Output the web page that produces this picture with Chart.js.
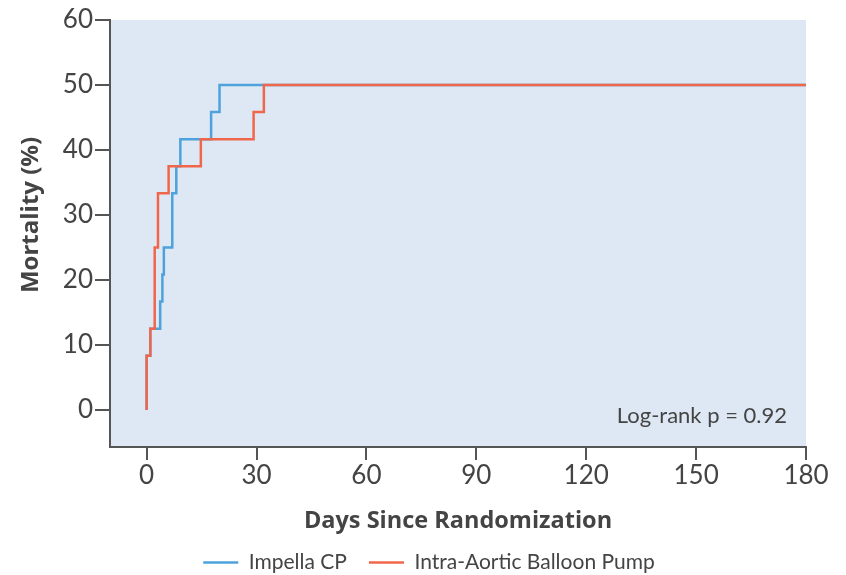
<!DOCTYPE html>
<html>
<head>
<meta charset="utf-8">
<script src="https://cdn.jsdelivr.net/npm/chart.js@4/dist/chart.umd.min.js"></script>
<style>
  html, body { margin: 0; padding: 0; background: #fff; }
  #wrap { width: 846px; height: 575px; }
</style>
</head>
<body>
<div id="wrap"><canvas id="myChart" width="846" height="575"></canvas></div>
<script>
// Kaplan-Meier steps (day, cumulative mortality %)
var impellaDays = [0, 0, 1, 3.7, 4.3, 4.7, 7, 8.1, 9.2, 17.6, 19.9, 180];
var impellaMort = [0, 8.33, 12.5, 16.67, 20.83, 25, 33.33, 37.5, 41.67, 45.83, 50, 50];
var iabpDays = [0, 0, 1, 2.2, 3.1, 6, 14.8, 29.2, 32, 180];
var iabpMort = [0, 8.33, 12.5, 25, 33.33, 37.5, 41.67, 45.83, 50, 50];
var xTicks = [0, 30, 60, 90, 120, 150, 180];
var yTicks = [0, 10, 20, 30, 40, 50, 60];
var yTitle = 'Mortality (%)';
var pText = 'Log-rank p = 0.92';

function toPoints(days, vals) {
  var pts = [];
  for (var i = 0; i < days.length; i++) pts.push({x: days[i], y: vals[i]});
  return pts;
}

var axisColor = '#555555';
var textColor = '#444444';

var plotBg = {
  id: 'plotBg',
  beforeDraw: function(chart) {
    var c = chart.ctx, a = chart.chartArea;
    c.save();
    c.fillStyle = '#ffffff';
    c.fillRect(0, 0, chart.width, chart.height);
    c.fillStyle = '#dee8f4';
    c.fillRect(a.left, a.top, a.right - a.left, a.bottom - a.top);
    c.restore();
  },
  afterDraw: function(chart) {
    var c = chart.ctx, a = chart.chartArea, y = chart.scales.y;
    c.save();
    c.font = '22px Lato';
    c.fillStyle = textColor;
    c.textAlign = 'right';
    c.textBaseline = 'alphabetic';
    c.fillText(pText, a.right - 19, a.bottom - 24);
    // y title centred on the 0-60 tick range, not the whole axis
    var mid = (y.getPixelForValue(yTicks[0]) + y.getPixelForValue(yTicks[yTicks.length - 1])) / 2;
    c.translate(31, mid);
    c.rotate(-Math.PI / 2);
    c.font = 'bold 24px "Open Sans"';
    c.textAlign = 'center';
    c.textBaseline = 'middle';
    c.fillText(yTitle, 0, 0);
    c.restore();
  }
};

var ctx = document.getElementById('myChart').getContext('2d');
var myChart = new Chart(ctx, {
  type: 'line',
  data: {
    datasets: [{
      label: 'Intra-Aortic Balloon Pump',
      data: toPoints(iabpDays, iabpMort),
      borderColor: '#f0664b',
      backgroundColor: '#f0664b',
      borderWidth: 2.5,
      stepped: 'before',
      pointRadius: 0,
      fill: false
    }, {
      label: 'Impella CP',
      data: toPoints(impellaDays, impellaMort),
      borderColor: '#4ea2dc',
      backgroundColor: '#4ea2dc',
      borderWidth: 2.5,
      stepped: 'before',
      pointRadius: 0,
      fill: false
    }]
  },
  plugins: [plotBg],
  options: {
    responsive: false,
    animation: false,
    layout: { padding: { top: 20, right: 40, left: 52, bottom: -8 } },
    plugins: {
      tooltip: { enabled: false },
      legend: {
        position: 'bottom',
        reverse: true,
        labels: {
          usePointStyle: true,
          pointStyle: 'line',
          pointStyleWidth: 35,
          color: textColor,
          font: { family: 'Lato', size: 21 },
          padding: 22
        }
      }
    },
    scales: {
      x: {
        type: 'linear',
        min: -10,
        max: 180,
        afterBuildTicks: function(s) { s.ticks = xTicks.map(function(v) { return {value: v}; }); },
        afterFit: function(s) { s.height = 83; },
        grid: { display: true, drawOnChartArea: false, drawTicks: true, tickLength: 13, color: axisColor, lineWidth: 2 },
        border: { display: true, color: axisColor, width: 2 },
        ticks: { color: textColor, font: { family: 'Lato', size: 26 }, padding: 0, maxRotation: 0 },
        title: {
          display: true,
          text: 'Days Since Randomization',
          color: textColor,
          font: { family: 'Open Sans', size: 23.5, weight: 'bold' },
          padding: { top: 0, bottom: -5 }
        }
      },
      y: {
        type: 'linear',
        min: -5.7,
        max: 60,
        afterBuildTicks: function(s) { s.ticks = yTicks.map(function(v) { return {value: v}; }); },
        afterFit: function(s) { s.width = 58; },
        grid: { display: true, drawOnChartArea: false, drawTicks: true, tickLength: 15, color: axisColor, lineWidth: 2 },
        border: { display: true, color: axisColor, width: 2 },
        ticks: { color: textColor, font: { family: 'Lato', size: 26 }, padding: 2 },
        title: { display: false }
      }
    }
  }
});
</script>
</body>
</html>
